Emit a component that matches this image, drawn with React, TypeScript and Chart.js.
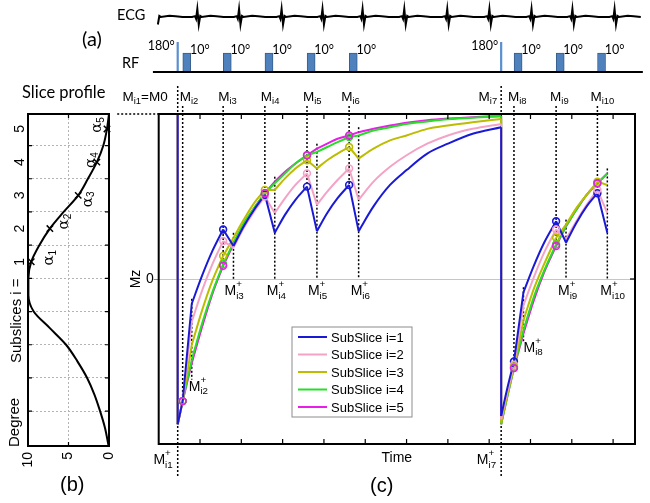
import React, { useEffect, useRef } from 'react';
import { Chart, registerables } from 'chart.js';

Chart.register(...registerables);

const SANS = '"Liberation Sans", Arial, sans-serif';
const CAL = 'Lato, "Open Sans", sans-serif';
const SERIF = '"DejaVu Serif", serif';

// ---------------- panel (a): ECG and RF ----------------
const ecgBeatTimes = [-0.04, 0.95, 1.96, 2.99, 3.98, 4.95, 5.96, 7.0, 8.02, 9.04, 10.03, 11.05];
const ecgWaveDt = [-0.14, -0.07, -0.045, -0.015, 0.02, 0.055, 0.09, 0.3, 0.45, 0.62];
const ecgWaveMv = [0, 0.04, -0.1, 0.42, -0.4, 0.05, 0, 0.06, 0.04, 0];
const ecgRange = [-0.28, 11.7];
const rfRange = [-0.14, 11.72];
const ecgLevel = 2.9;
const inversionTimes = [0.46, 8.29];
const inversionNames = ['i1', 'i7'];
const pulseTimes = [0.58, 1.56, 2.57, 3.59, 4.61, 8.6, 9.62, 10.62];
const pulsePlusTimes = [0.8, 1.81, 2.81, 3.83, 4.84, 8.83, 9.86, 10.86];
const pulseNames = ['i2', 'i3', 'i4', 'i5', 'i6', 'i8', 'i9', 'i10'];
const rfBlockDuration = 0.2;
const rfAmp10 = 1;
const rfAmp180 = 1.58;
const rfLabel10 = '10°';
const rfLabel180 = '180°';

// ---------------- panel (c): Mz recovery ----------------
const timeMin = 0;
const timeMax = 11.53;
const timeTicks = [1, 2, 3, 4, 5, 6, 7, 8, 9, 10, 11];
const mzTicks = [0];
const mzBeforeInversion = [1, 1, 1, 1, 1];
const segmentTimes = [
  [0.46, 0.58],
  [0.8, 1.05, 1.3, 1.56],
  [1.81, 2.06, 2.31, 2.57],
  [2.81, 3.06, 3.31, 3.59],
  [3.83, 4.08, 4.33, 4.61],
  [4.84, 5.2, 5.6, 6.0, 6.5, 7.0, 7.6, 8.29],
  [8.29, 8.45, 8.6],
  [8.83, 9.08, 9.33, 9.62],
  [9.86, 10.11, 10.36, 10.62],
  [10.86],
];
const mzSubslice1 = [
  [-0.88, -0.74],
  [-0.15, 0.02, 0.17, 0.3],
  [0.2, 0.32, 0.42, 0.51],
  [0.28, 0.39, 0.48, 0.56],
  [0.29, 0.4, 0.49, 0.57],
  [0.29, 0.44, 0.57, 0.66, 0.76, 0.82, 0.88, 0.92],
  [-0.83, -0.65, -0.5],
  [-0.08, 0.08, 0.22, 0.35],
  [0.22, 0.34, 0.44, 0.52],
  [0.28],
];
const mzSubslice2 = [
  [-0.88, -0.74],
  [-0.26, -0.07, 0.09, 0.23],
  [0.19, 0.31, 0.41, 0.5],
  [0.4, 0.49, 0.57, 0.64],
  [0.45, 0.53, 0.6, 0.67],
  [0.48, 0.59, 0.68, 0.75, 0.82, 0.87, 0.91, 0.94],
  [-0.85, -0.67, -0.52],
  [-0.16, 0.01, 0.16, 0.3],
  [0.24, 0.35, 0.45, 0.54],
  [0.4],
];
const mzSubslice3 = [
  [-0.88, -0.74],
  [-0.4, -0.19, -0.01, 0.14],
  [0.25, 0.36, 0.46, 0.54],
  [0.54, 0.61, 0.67, 0.72],
  [0.67, 0.72, 0.76, 0.8],
  [0.73, 0.79, 0.84, 0.87, 0.91, 0.93, 0.95, 0.97],
  [-0.87, -0.69, -0.53],
  [-0.25, -0.06, 0.09, 0.25],
  [0.33, 0.43, 0.51, 0.59],
  [0.57],
];
const mzSubslice4 = [
  [-0.88, -0.74],
  [-0.49, -0.27, -0.08, 0.09],
  [0.22, 0.34, 0.43, 0.52],
  [0.58, 0.64, 0.7, 0.75],
  [0.77, 0.8, 0.83, 0.86],
  [0.87, 0.9, 0.92, 0.94, 0.955, 0.968, 0.978, 0.986],
  [-0.88, -0.7, -0.54],
  [-0.31, -0.11, 0.05, 0.21],
  [0.32, 0.42, 0.51, 0.58],
  [0.64],
];
const mzSubslice5 = [
  [-0.88, -0.74],
  [-0.51, -0.29, -0.09, 0.08],
  [0.21, 0.33, 0.43, 0.52],
  [0.59, 0.65, 0.7, 0.75],
  [0.79, 0.82, 0.85, 0.87],
  [0.89, 0.91, 0.93, 0.947, 0.962, 0.972, 0.981, 0.988],
  [-0.88, -0.7, -0.54],
  [-0.33, -0.13, 0.04, 0.2],
  [0.32, 0.42, 0.51, 0.58],
  [0.64],
];
const mzSeries = [mzSubslice1, mzSubslice2, mzSubslice3, mzSubslice4, mzSubslice5];
const subsliceLabels = ['SubSlice i=1', 'SubSlice i=2', 'SubSlice i=3', 'SubSlice i=4', 'SubSlice i=5'];
const subsliceColors = ['#1a1ad6', '#f4a3c6', '#bcbc00', '#26de26', '#e61ee6'];
// annotation placement (styles, not data)
const plusLineBottom = [-0.61, 0, 0, 0, 0, -0.38, 0, 0];
const topLabelDx = [-3, -5, -4, -4, -8, -6, -6, -7];
const plusLabelDx = [-3, -9, -8, -9, -8, 0, -8, -7];
const plusLabelDy = [11, 16, 16, 16, 16, 10, 16, 16];

// ---------------- panel (b): slice profile ----------------
const profileSubslice = [-4.55, -4, -3.5, -3, -2.5, -2, -1.5, -1, -0.5, 0, 0.5, 1, 1.5, 2, 2.5, 3, 3.5, 4, 4.5, 5, 5.45];
const profileDegree = [0.05, 0.5, 1.1, 1.8, 2.7, 3.9, 5.3, 7.3, 9.3, 9.95, 9.95, 9.6, 8.6, 7.3, 5.6, 3.8, 2.6, 1.5, 0.7, 0.25, 0];
const alphaSubslice = [1, 2, 3, 4, 5];
const alphaDegree = [9.6, 7.3, 3.8, 1.5, 0.25];
const subsliceTicks = [1, 2, 3, 4, 5];
const subsliceGrid = [-3.5, -2.5, -1.5, -0.5, 0.5, 1.5, 2.5, 3.5, 4.5];
const degreeTicks = [10, 5, 0];
const degreeGrid = [5];
const alphaLabelOffsets = [[18, -4], [14, -7], [9.5, 4], [-5.5, -2], [-9.5, -4]];

// ---------------- helpers ----------------
const last = (a: number[]) => a[a.length - 1];

function recoveryData(vals: number[][]) {
  const out: any[] = [];
  segmentTimes.forEach((ts, s) => {
    ts.forEach((t, k) => out.push({ x: t, y: vals[s][k] }));
    out.push({ x: last(ts), y: null });
  });
  return out;
}
function straightData(vals: number[][], pre: number) {
  const out: any[] = [
    { x: inversionTimes[0], y: pre },
    { x: segmentTimes[0][0], y: vals[0][0] },
    { x: segmentTimes[0][0], y: null },
  ];
  for (let s = 0; s < segmentTimes.length - 1; s++) {
    out.push({ x: last(segmentTimes[s]), y: last(vals[s]) });
    out.push({ x: segmentTimes[s + 1][0], y: vals[s + 1][0] });
    out.push({ x: segmentTimes[s + 1][0], y: null });
  }
  return out;
}
function markerData(vals: number[][]) {
  const out: any[] = [];
  segmentTimes.forEach((ts, s) => {
    if (pulseTimes.includes(last(ts))) out.push({ x: last(ts), y: last(vals[s]) });
  });
  return out;
}
function valueAtPulse(j: number, plus: boolean) {
  const vals = mzSeries.map((ser) => {
    const s = segmentTimes.findIndex((ts) => (plus ? ts[0] === pulsePlusTimes[j] : last(ts) === pulseTimes[j]));
    return plus ? ser[s][0] : last(ser[s]);
  });
  return plus ? Math.max(...vals) : Math.min(...vals);
}

function drawM(ctx: CanvasRenderingContext2D, x: number, base: number, sub: string, size: number, opts: any = {}) {
  const small = size * 0.7;
  ctx.font = `${size}px ${SANS}`;
  const mW = ctx.measureText('M').width;
  const restW = opts.rest ? ctx.measureText(opts.rest).width : 0;
  ctx.font = `${small}px ${SANS}`;
  const subW = ctx.measureText(sub).width;
  const supW = opts.sup ? ctx.measureText(opts.sup).width : 0;
  const idxW = Math.max(subW, supW);
  const total = mW + idxW + restW;
  const x0 = opts.align === 'right' ? x - total : x;
  ctx.textAlign = 'left';
  ctx.textBaseline = 'alphabetic';
  ctx.fillStyle = '#000';
  ctx.font = `${size}px ${SANS}`;
  ctx.fillText('M', x0, base);
  if (opts.rest) ctx.fillText(opts.rest, x0 + mW + idxW, base);
  ctx.font = `${small}px ${SANS}`;
  ctx.fillText(sub, x0 + mW, base + size * 0.25);
  if (opts.sup) ctx.fillText(opts.sup, x0 + mW, base - size * 0.55);
}

function rotText(ctx: CanvasRenderingContext2D, text: string, x: number, y: number, font: string, align: CanvasTextAlign) {
  ctx.save();
  ctx.translate(x, y);
  ctx.rotate(-Math.PI / 2);
  ctx.font = font;
  ctx.fillStyle = '#000';
  ctx.textAlign = align;
  ctx.textBaseline = 'middle';
  ctx.fillText(text, 0, 0);
  ctx.restore();
}

// ---------------- chart (c) ----------------
const mainAnnotations = {
  id: 'mainAnnotations',
  beforeDatasetsDraw(chart: any) {
    const { ctx, chartArea: ca, scales } = chart;
    const x = scales.x, y = scales.y;
    ctx.save();
    ctx.strokeStyle = '#000';
    ctx.lineWidth = 1.5;
    ctx.setLineDash([2, 2]);
    const vline = (px: number, y1: number, y2: number) => {
      ctx.beginPath(); ctx.moveTo(px, y1); ctx.lineTo(px, y2); ctx.stroke();
    };
    ctx.beginPath();
    ctx.moveTo(ca.left - 41.5, y.getPixelForValue(1));
    ctx.lineTo(ca.left, y.getPixelForValue(1));
    ctx.stroke();
    inversionTimes.forEach((t) => vline(x.getPixelForValue(t), ca.top - 28, ca.bottom + 32));
    pulseTimes.forEach((t, j) => {
      vline(x.getPixelForValue(t), ca.top - 8, y.getPixelForValue(valueAtPulse(j, false)));
      vline(x.getPixelForValue(pulsePlusTimes[j]), y.getPixelForValue(valueAtPulse(j, true) + 0.03), y.getPixelForValue(plusLineBottom[j]));
    });
    ctx.restore();
  },
  afterDraw(chart: any) {
    const { ctx, chartArea: ca, scales } = chart;
    const x = scales.x, y = scales.y;
    ctx.save();
    ctx.setLineDash([]);
    ctx.strokeStyle = '#000';
    ctx.lineWidth = 2;
    ctx.strokeRect(ca.left, ca.top, ca.right - ca.left, ca.bottom - ca.top);
    ctx.lineWidth = 1.2;
    x.ticks.forEach((tk: any) => {
      const px = x.getPixelForValue(tk.value);
      ctx.beginPath();
      ctx.moveTo(px, ca.bottom); ctx.lineTo(px, ca.bottom - 5);
      ctx.moveTo(px, ca.top); ctx.lineTo(px, ca.top + 5);
      ctx.stroke();
    });
    y.ticks.forEach((tk: any) => {
      const py = y.getPixelForValue(tk.value);
      ctx.beginPath(); ctx.moveTo(ca.right, py); ctx.lineTo(ca.right - 5, py); ctx.stroke();
    });
    // labels above / below
    const topBase = ca.top - 13;
    drawM(ctx, x.getPixelForValue(inversionTimes[0]) - 10, topBase, inversionNames[0], 13.5, { align: 'right', rest: '=M0' });
    drawM(ctx, x.getPixelForValue(inversionTimes[1]) - 4, topBase, inversionNames[1], 13.5, { align: 'right' });
    inversionTimes.forEach((t, k) => drawM(ctx, x.getPixelForValue(t) - 5, ca.bottom + 20, inversionNames[k], 14, { align: 'right', sup: '+' }));
    pulseTimes.forEach((t, j) => {
      drawM(ctx, x.getPixelForValue(t) + topLabelDx[j], topBase, pulseNames[j], 13.5);
      drawM(ctx, x.getPixelForValue(pulsePlusTimes[j]) + plusLabelDx[j], y.getPixelForValue(plusLineBottom[j]) + plusLabelDy[j], pulseNames[j], 14, { sup: '+' });
    });
    // legend
    const lx = ca.left + 133.3, ly = ca.top + 213, lw = 120, lh = 90;
    ctx.fillStyle = '#fff';
    ctx.fillRect(lx, ly, lw, lh);
    ctx.strokeStyle = '#8c8c8c';
    ctx.lineWidth = 1;
    ctx.strokeRect(lx, ly, lw, lh);
    subsliceLabels.forEach((lab, i) => {
      const cy = ly + 10 + i * 17.5;
      ctx.strokeStyle = subsliceColors[i];
      ctx.lineWidth = 2;
      ctx.beginPath(); ctx.moveTo(lx + 6, cy); ctx.lineTo(lx + 35, cy); ctx.stroke();
      ctx.fillStyle = '#000';
      ctx.font = `13px ${SANS}`;
      ctx.textAlign = 'left';
      ctx.textBaseline = 'alphabetic';
      ctx.fillText(lab, lx + 39, cy + 4.6);
    });
    ctx.restore();
  },
};

function mainConfig(): any {
  const datasets: any[] = [];
  mzSeries.forEach((vals, i) => {
    datasets.push({
      label: subsliceLabels[i], data: recoveryData(vals), borderColor: subsliceColors[i], borderWidth: 2,
      pointRadius: 0, cubicInterpolationMode: 'monotone', fill: false, order: i,
    });
    datasets.push({
      label: '', data: straightData(vals, mzBeforeInversion[i]), borderColor: subsliceColors[i], borderWidth: 2,
      pointRadius: 0, tension: 0, fill: false, order: i,
    });
    datasets.push({
      label: '', data: markerData(vals), showLine: false, pointRadius: 3.4, pointBorderWidth: 1.6,
      pointBorderColor: subsliceColors[i], pointBackgroundColor: 'rgba(0,0,0,0)', order: -10 + (4 - i),
    });
  });
  return {
    type: 'line',
    data: { datasets },
    options: {
      animation: false, responsive: false, events: [],
      layout: { padding: { left: 127.7, right: 15, top: 114, bottom: 36.6 } },
      plugins: { legend: { display: false }, tooltip: { enabled: false } },
      scales: {
        x: {
          type: 'linear', min: timeMin, max: timeMax, offset: false,
          afterBuildTicks: (s: any) => { s.ticks = timeTicks.map((v) => ({ value: v })); },
          afterFit: (s: any) => { s.height = 22.4; },
          grid: { display: false }, border: { display: false }, ticks: { display: false },
          title: { display: true, text: 'Time', color: '#000', font: { family: SANS, size: 14 }, padding: 0 },
        },
        y: {
          type: 'linear', min: -1, max: 1,
          afterBuildTicks: (s: any) => { s.ticks = mzTicks.map((v) => ({ value: v })); },
          afterFit: (s: any) => { s.width = 31; },
          grid: { color: '#c6c6c6', lineWidth: 1, tickLength: 5, tickColor: '#8a8a8a' },
          border: { display: false },
          ticks: { color: '#000', font: { family: SANS, size: 14 }, padding: 0 },
          title: { display: true, text: 'Mz', color: '#000', font: { family: SANS, size: 14 }, padding: 0 },
        },
      },
    },
    plugins: [mainAnnotations],
  };
}

// ---------------- chart (a) ----------------
const rfAnnotations = {
  id: 'rfAnnotations',
  afterDraw(chart: any) {
    const { ctx, scales } = chart;
    const x = scales.x, y = scales.y;
    ctx.save();
    ctx.fillStyle = '#000';
    ctx.font = `12.5px ${CAL}`;
    ctx.textBaseline = 'alphabetic';
    ctx.textAlign = 'left';
    pulseTimes.forEach((t) => ctx.fillText(rfLabel10, x.getPixelForValue(t + rfBlockDuration) - 1, y.getPixelForValue(rfAmp10) + 0.5));
    ctx.textAlign = 'right';
    inversionTimes.forEach((t) => ctx.fillText(rfLabel180, x.getPixelForValue(t) - 3, y.getPixelForValue(rfAmp180) + 8));
    ctx.restore();
  },
};

function aConfig(): any {
  const ecg: any[] = [{ x: ecgRange[0], y: ecgLevel }];
  ecgBeatTimes.forEach((bt) => ecgWaveDt.forEach((dt, j) => ecg.push({ x: bt + dt, y: ecgLevel + ecgWaveMv[j] })));
  ecg.push({ x: ecgRange[1], y: ecgLevel });
  const inv: any[] = [];
  inversionTimes.forEach((t) => { inv.push({ x: t, y: 0 }, { x: t, y: rfAmp180 }, { x: t, y: null }); });
  return {
    type: 'line',
    data: {
      datasets: [
        { type: 'line', data: ecg, borderColor: '#000', borderWidth: 2, pointRadius: 0, tension: 0, clip: false },
        { type: 'line', data: rfRange.map((t) => ({ x: t, y: 0 })), borderColor: '#000', borderWidth: 2, pointRadius: 0, clip: false },
        { type: 'line', data: inv, borderColor: '#5b8fd0', borderWidth: 2.2, pointRadius: 0, clip: false },
        {
          type: 'bar', data: pulseTimes.map((t) => ({ x: t + rfBlockDuration / 2, y: rfAmp10 })),
          backgroundColor: '#4f81bd', borderColor: '#385d8a', borderWidth: 1, barThickness: 8, clip: false,
        },
      ],
    },
    options: {
      animation: false, responsive: false, events: [],
      layout: { padding: { left: 158.7, right: 15, top: 0, bottom: 421 } },
      plugins: { legend: { display: false }, tooltip: { enabled: false } },
      scales: {
        x: { type: 'linear', min: timeMin, max: timeMax, display: false, offset: false },
        y: { type: 'linear', min: -0.526, max: 3.79, display: false },
      },
    },
    plugins: [rfAnnotations],
  };
}

// ---------------- chart (b) ----------------
const profileAnnotations = {
  id: 'profileAnnotations',
  afterDraw(chart: any) {
    const { ctx, chartArea: ca, scales } = chart;
    const x = scales.x, y = scales.y;
    ctx.save();
    ctx.strokeStyle = '#000';
    ctx.lineWidth = 2;
    ctx.strokeRect(ca.left, ca.top, ca.right - ca.left, ca.bottom - ca.top);
    ctx.lineWidth = 1.2;
    y.ticks.forEach((tk: any) => {
      const py = y.getPixelForValue(tk.value);
      ctx.beginPath();
      ctx.moveTo(ca.left, py); ctx.lineTo(ca.left + 4, py);
      ctx.moveTo(ca.right, py); ctx.lineTo(ca.right - 4, py);
      ctx.stroke();
    });
    x.ticks.forEach((tk: any) => {
      const px = x.getPixelForValue(tk.value);
      ctx.beginPath();
      ctx.moveTo(px, ca.top); ctx.lineTo(px, ca.top + 4);
      ctx.moveTo(px, ca.bottom); ctx.lineTo(px, ca.bottom - 4);
      ctx.stroke();
    });
    subsliceTicks.forEach((i) => rotText(ctx, String(i), ca.left - 8, y.getPixelForValue(i), `14px ${SANS}`, 'center'));
    degreeTicks.forEach((d) => rotText(ctx, String(d), x.getPixelForValue(d), ca.bottom + 6, `14px ${SANS}`, 'right'));
    rotText(ctx, 'Degree', ca.left - 13, ca.bottom + 1, `15px ${SANS}`, 'left');
    rotText(ctx, 'Subslices i =', ca.left - 11, y.getPixelForValue(-2.05), `15px ${SANS}`, 'left');
    alphaSubslice.forEach((i, k) => {
      const cx = x.getPixelForValue(alphaDegree[k]) + alphaLabelOffsets[k][0];
      const cy = y.getPixelForValue(i) + alphaLabelOffsets[k][1];
      ctx.save();
      ctx.translate(cx, cy);
      ctx.rotate(-Math.PI / 2);
      ctx.fillStyle = '#000';
      ctx.textBaseline = 'middle';
      ctx.textAlign = 'left';
      ctx.font = `15px ${SERIF}`;
      const aw = ctx.measureText('α').width;
      ctx.font = `10px ${SANS}`;
      const sw = ctx.measureText(String(i)).width;
      const u = -(aw + sw) / 2;
      ctx.font = `15px ${SERIF}`;
      ctx.fillText('α', u, 0);
      ctx.font = `10px ${SANS}`;
      ctx.fillText(String(i), u + aw, 4);
      ctx.restore();
    });
    ctx.restore();
  },
};

function bConfig(): any {
  return {
    type: 'line',
    data: {
      datasets: [
        {
          data: profileSubslice.map((s, k) => ({ x: profileDegree[k], y: s })), indexAxis: 'y',
          borderColor: '#000', borderWidth: 2, pointRadius: 0, cubicInterpolationMode: 'monotone', fill: false,
        },
        {
          data: alphaSubslice.map((s, k) => ({ x: alphaDegree[k], y: s })), showLine: false,
          pointStyle: 'crossRot', pointRadius: 4.5, pointBorderWidth: 1.5, pointBorderColor: '#000', clip: false,
        },
      ],
    },
    options: {
      animation: false, responsive: false, events: [],
      layout: { padding: { left: 28, right: 541, top: 114, bottom: 57 } },
      plugins: { legend: { display: false }, tooltip: { enabled: false } },
      scales: {
        x: {
          type: 'linear', min: 0, max: 10, reverse: true, offset: false,
          afterBuildTicks: (s: any) => { s.ticks = degreeGrid.map((v) => ({ value: v })); },
          afterFit: (s: any) => { s.height = 0; },
          ticks: { display: false }, border: { display: false, dash: [2, 2] },
          grid: { color: '#b4b4b4', lineWidth: 1, drawTicks: false },
        },
        y: {
          type: 'linear', min: -4.55, max: 5.45,
          afterBuildTicks: (s: any) => { s.ticks = subsliceGrid.map((v) => ({ value: v })); },
          afterFit: (s: any) => { s.width = 0; },
          ticks: { display: false }, border: { display: false, dash: [2, 2] },
          grid: { color: '#b4b4b4', lineWidth: 1, drawTicks: false },
        },
      },
    },
    plugins: [profileAnnotations],
  };
}

const canvasStyle: React.CSSProperties = { position: 'absolute', left: 0, top: 0, width: 650, height: 503 };

function Label(props: { text: string; left: number; top: number; size: number; family: string }) {
  return (
    <div style={{ position: 'absolute', left: props.left, top: props.top, fontSize: props.size, fontFamily: props.family,
      lineHeight: `${props.size * 1.2}px`, whiteSpace: 'nowrap', color: '#000' }}>{props.text}</div>
  );
}

export default function App() {
  const mainRef = useRef<HTMLCanvasElement>(null);
  const aRef = useRef<HTMLCanvasElement>(null);
  const bRef = useRef<HTMLCanvasElement>(null);
  useEffect(() => {
    const charts = [
      new Chart(mainRef.current as HTMLCanvasElement, mainConfig()),
      new Chart(aRef.current as HTMLCanvasElement, aConfig()),
      new Chart(bRef.current as HTMLCanvasElement, bConfig()),
    ];
    return () => charts.forEach((c) => c.destroy());
  }, []);
  return (
    <div style={{ position: 'fixed', left: 0, top: 0, width: 650, height: 503, background: '#fff', overflow: 'hidden' }}>
      <canvas ref={mainRef} width={650} height={503} style={canvasStyle} />
      <canvas ref={aRef} width={650} height={503} style={canvasStyle} />
      <canvas ref={bRef} width={650} height={503} style={canvasStyle} />
      <Label text="ECG" left={117} top={6} size={14.5} family={CAL} />
      <Label text="RF" left={122} top={54} size={14.5} family={CAL} />
      <Label text="(a)" left={82} top={26} size={20} family={CAL} />
      <Label text="Slice profile" left={22} top={83} size={16.5} family={CAL} />
      <Label text="(b)" left={60} top={472} size={20} family={SANS} />
      <Label text="(c)" left={370} top={473} size={20} family={SANS} />
    </div>
  );
}
